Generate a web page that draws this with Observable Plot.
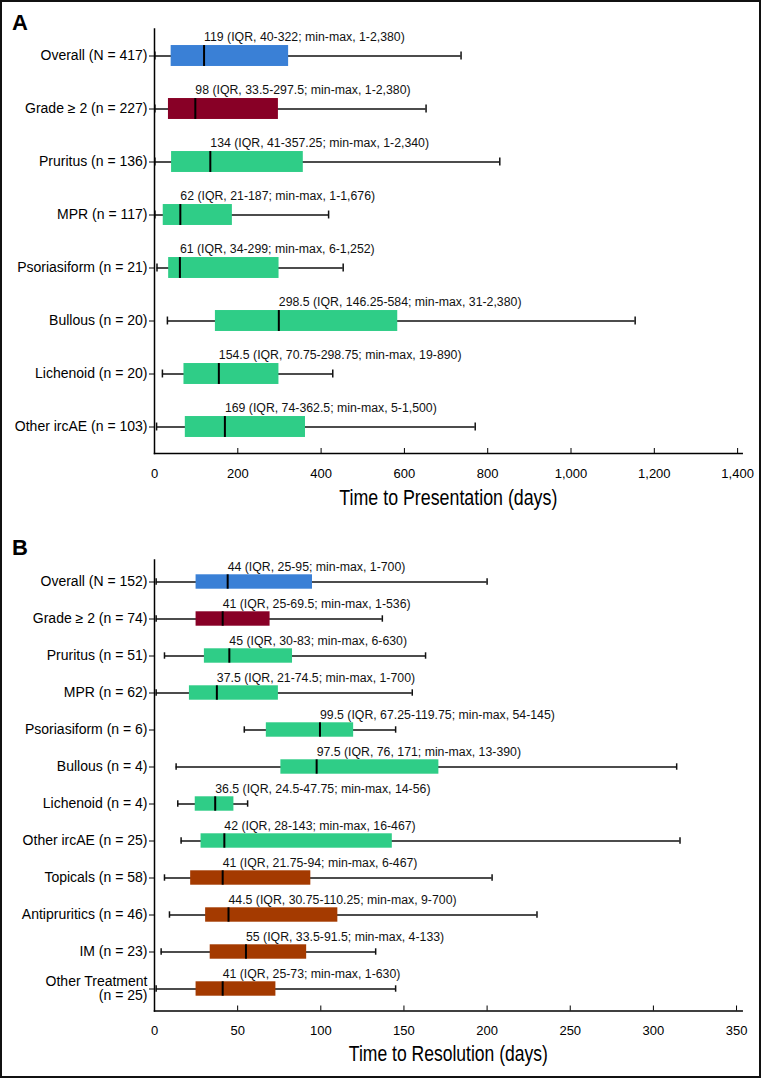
<!DOCTYPE html>
<html><head><meta charset="utf-8">
<script src="https://cdn.jsdelivr.net/npm/d3@7"></script>
<script src="https://cdn.jsdelivr.net/npm/@observablehq/plot@0.6"></script>
<style>
body{margin:0;background:#fff;}
#wrap{position:relative;width:762px;height:1078px;overflow:hidden;background:#fff;font-family:"Liberation Sans",Arial,sans-serif;color:#000;}
#border{position:absolute;left:0;top:0;width:761px;height:1078px;box-sizing:border-box;border:2px solid #111;pointer-events:none;}
.panel{position:absolute;left:0;}
.letter{position:absolute;left:12px;font-weight:bold;font-size:22px;line-height:1;font-family:"Liberation Sans",Arial,sans-serif;}
</style></head>
<body>
<div id="wrap">
  <div id="a" class="panel" style="top:0"></div>
  <div id="b" class="panel" style="top:530px"></div>
  <div class="letter" style="top:12px">A</div>
  <div class="letter" style="top:537px">B</div>
  <div id="border"></div>
</div>
<script>
// ---- Panel A: Time to Presentation ----
const catsA = ["Overall (N = 417)", "Grade \u2265 2 (n = 227)", "Pruritus (n = 136)", "MPR (n = 117)", "Psoriasiform (n = 21)", "Bullous (n = 20)", "Lichenoid (n = 20)", "Other ircAE (n = 103)"];
const medA = [119, 98, 134, 62, 61, 298.5, 154.5, 169];
const q1A = [40, 33.5, 41, 21, 34, 146.25, 70.75, 74];
const q3A = [322, 297.5, 357.25, 187, 299, 584, 298.75, 362.5];
const loA = [1, 1, 1, 1, 6, 31, 19, 5];
const hiA = [736, 652, 829, 418, 453, 1154, 428, 770];
const groupA = ["overall", "grade", "type", "type", "type", "type", "type", "type"];
const notesA = [
  "119 (IQR, 40-322; min-max, 1-2,380)",
  "98 (IQR, 33.5-297.5; min-max, 1-2,380)",
  "134 (IQR, 41-357.25; min-max, 1-2,340)",
  "62 (IQR, 21-187; min-max, 1-1,676)",
  "61 (IQR, 34-299; min-max, 6-1,252)",
  "298.5 (IQR, 146.25-584; min-max, 31-2,380)",
  "154.5 (IQR, 70.75-298.75; min-max, 19-890)",
  "169 (IQR, 74-362.5; min-max, 5-1,500)"
];
const ticksA = [0, 200, 400, 600, 800, 1000, 1200, 1400];

// ---- Panel B: Time to Resolution ----
const catsB = ["Overall (N = 152)", "Grade \u2265 2 (n = 74)", "Pruritus (n = 51)", "MPR (n = 62)", "Psoriasiform (n = 6)", "Bullous (n = 4)", "Lichenoid (n = 4)", "Other ircAE (n = 25)", "Topicals (n = 58)", "Antipruritics (n = 46)", "IM (n = 23)", "Other Treatment\n(n = 25)"];
const medB = [44, 41, 45, 37.5, 99.5, 97.5, 36.5, 42, 41, 44.5, 55, 41];
const q1B = [25, 25, 30, 21, 67.25, 76, 24.5, 28, 21.75, 30.75, 33.5, 25];
const q3B = [95, 69.5, 83, 74.5, 119.75, 171, 47.75, 143, 94, 110.25, 91.5, 73];
const loB = [1, 1, 6, 1, 54, 13, 14, 16, 6, 9, 4, 1];
const hiB = [200, 137, 163, 155, 145, 314, 56, 316, 203, 230, 133, 145];
const groupB = ["overall", "grade", "type", "type", "type", "type", "type", "type", "treat", "treat", "treat", "treat"];
const notesB = [
  "44 (IQR, 25-95; min-max, 1-700)",
  "41 (IQR, 25-69.5; min-max, 1-536)",
  "45 (IQR, 30-83; min-max, 6-630)",
  "37.5 (IQR, 21-74.5; min-max, 1-700)",
  "99.5 (IQR, 67.25-119.75; min-max, 54-145)",
  "97.5 (IQR, 76, 171; min-max, 13-390)",
  "36.5 (IQR, 24.5-47.75; min-max, 14-56)",
  "42 (IQR, 28-143; min-max, 16-467)",
  "41 (IQR, 21.75-94; min-max, 6-467)",
  "44.5 (IQR, 30.75-110.25; min-max, 9-700)",
  "55 (IQR, 33.5-91.5; min-max, 4-133)",
  "41 (IQR, 25-73; min-max, 1-630)"
];
const ticksB = [0, 50, 100, 150, 200, 250, 300, 350];

const groupColors = {overall: "#3a80d6", grade: "#880026", type: "#2fcd87", treat: "#a43a00"};

function rows(cats, med, q1, q3, lo, hi, group, notes) {
  return cats.map((c, i) => ({cat: c, med: med[i], q1: q1[i], q3: q3[i], lo: lo[i], hi: hi[i], fill: groupColors[group[i]], note: notes[i]}));
}

function panel({data, cats, xmax, ticks, height, marginTop, marginBottom, boxH, capH, noteDy, title, titleDy, titleLen, tickPad}) {
  const inner = height - marginTop - marginBottom;
  const step = inner / cats.length;
  const boxInset = (step - boxH) / 2;
  const capInset = (step - capH) / 2;
  const svg = Plot.plot({
    width: 762,
    height,
    marginLeft: 154,
    marginRight: 20.3,
    marginTop,
    marginBottom,
    style: {fontFamily: "'Liberation Sans', Arial, sans-serif", color: "#000", background: "transparent", overflow: "visible"},
    x: {domain: [0, xmax], ticks},
    y: {type: "band", domain: cats, padding: 0},
    color: {type: "identity"},
    marks: [
      Plot.ruleY(data, {y: "cat", x1: "lo", x2: "hi", stroke: "#111", strokeWidth: 1.5}),
      Plot.barX(data, {y: "cat", x1: "q1", x2: "q3", fill: "fill", insetTop: boxInset, insetBottom: boxInset}),
      Plot.tickX(data, {y: "cat", x: "med", stroke: "#000", strokeWidth: 2, insetTop: boxInset, insetBottom: boxInset}),
      Plot.tickX(data, {y: "cat", x: "lo", stroke: "#111", strokeWidth: 1.5, insetTop: capInset, insetBottom: capInset}),
      Plot.tickX(data, {y: "cat", x: "hi", stroke: "#111", strokeWidth: 1.5, insetTop: capInset, insetBottom: capInset}),
      Plot.text(data, {y: "cat", x: "med", text: "note", textAnchor: "start", lineAnchor: "middle", dy: noteDy, fontSize: 12.3, fill: "#111"}),
      Plot.axisY({tickSize: 5, tickPadding: 2, fontSize: 14, label: null, tickFormat: d => d}),
      Plot.axisX(ticks, {tickSize: 0, tickPadding: tickPad, fontSize: 13, label: null, tickFormat: d3.format(",")}),
      Plot.axisX(ticks, {tickSize: 5, dy: -5, label: null, tickFormat: () => ""}),
      Plot.frame({anchor: "left", strokeWidth: 1.5}),
      Plot.frame({anchor: "bottom", strokeWidth: 1.5}),
      Plot.text([title], {text: d => d, frameAnchor: "bottom", lineAnchor: "middle", dy: titleDy, fontSize: 21.5})
    ]
  });
  // condensed look for the axis title
  d3.select(svg).selectAll("text")
    .filter(function() { return this.textContent === title; })
    .attr("textLength", titleLen)
    .attr("lengthAdjust", "spacingAndGlyphs");
  return svg;
}

document.getElementById("a").appendChild(panel({
  data: rows(catsA, medA, q1A, q3A, loA, hiA, groupA, notesA),
  cats: catsA, xmax: 1411, ticks: ticksA,
  height: 530, marginTop: 28.5, marginBottom: 77,
  boxH: 21, capH: 8, noteDy: -18.5,
  title: "Time to Presentation (days)", titleDy: 44.3, titleLen: 218, tickPad: 15
}));

document.getElementById("b").appendChild(panel({
  data: rows(catsB, medB, q1B, q3B, loB, hiB, groupB, notesB),
  cats: catsB, xmax: 353.4, ticks: ticksB,
  height: 548, marginTop: 29.5, marginBottom: 67.5,
  boxH: 15, capH: 7, noteDy: -15.3,
  title: "Time to Resolution (days)", titleDy: 43.5, titleLen: 199, tickPad: 14.6
}));
</script>
</body></html>
